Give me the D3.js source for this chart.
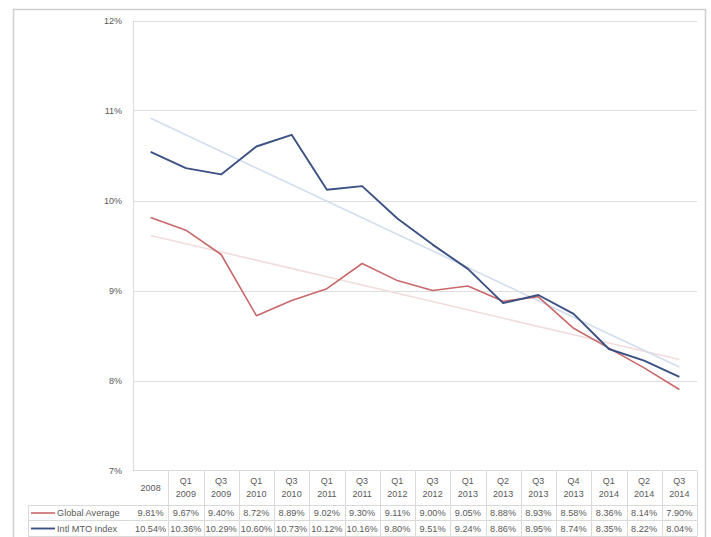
<!DOCTYPE html>
<html>
<head>
<meta charset="utf-8">
<script src="https://cdn.jsdelivr.net/npm/d3@7"></script>
<style>
  html, body { margin: 0; padding: 0; background: #fff; }
  svg { display: block; }
  text { font-family: "Liberation Sans", "DejaVu Sans", sans-serif; }
</style>
</head>
<body>
<svg id="chart" width="711" height="537"></svg>
<script>
// Quarterly periods shown along the x axis (two-line labels)
const categories = ["2008", "Q1\n2009", "Q3\n2009", "Q1\n2010", "Q3\n2010", "Q1\n2011", "Q3\n2011",
  "Q1\n2012", "Q3\n2012", "Q1\n2013", "Q2\n2013", "Q3\n2013", "Q4\n2013", "Q1\n2014", "Q2\n2014", "Q3\n2014"];

// Rates, in percent
const globalAverage = [9.81, 9.67, 9.40, 8.72, 8.89, 9.02, 9.30, 9.11, 9.00, 9.05, 8.88, 8.93, 8.58, 8.36, 8.14, 7.90];
const intlMtoIndex = [10.54, 10.36, 10.29, 10.60, 10.73, 10.12, 10.16, 9.80, 9.51, 9.24, 8.86, 8.95, 8.74, 8.35, 8.22, 8.04];

const yTicks = [7, 8, 9, 10, 11, 12];

const seriesNames = ["Global Average", "Intl MTO Index"];

const series = [
  { name: seriesNames[0], values: globalAverage, color: "#c8686a", trend: "#f3dcdd", width: 1.6 },
  { name: seriesNames[1], values: intlMtoIndex, color: "#3b5183", trend: "#d2ddee", width: 1.9 }
];

const svg = d3.select("#chart");
const plotLeft = 133, plotRight = 697, plotTop = 20.5, plotBottom = 470.5;

const x = d3.scaleBand().domain(categories).range([plotLeft, plotRight]);
const cx = c => x(c) + x.bandwidth() / 2;
const y = d3.scaleLinear().domain([7, 12]).range([plotBottom, plotTop]);

// outer chart border
svg.append("path")
  .attr("d", "M13.5,537 V9.5 H705.5 V537")
  .attr("fill", "none").attr("stroke", "#d0d0d0").attr("stroke-width", 1.5);

// horizontal gridlines
svg.append("g").selectAll("line").data(yTicks.filter(t => t > 7)).join("line")
  .attr("x1", plotLeft).attr("x2", plotRight)
  .attr("y1", d => Math.round(y(d)) + 0.5).attr("y2", d => Math.round(y(d)) + 0.5)
  .attr("stroke", "#dedede").attr("stroke-width", 1);

// vertical axis line
svg.append("line")
  .attr("x1", plotLeft + 0.5).attr("x2", plotLeft + 0.5)
  .attr("y1", plotTop).attr("y2", plotBottom)
  .attr("stroke", "#dcdcdc");

// y axis labels
const yAxis = d3.axisLeft(y).tickValues(yTicks).tickSize(0).tickPadding(11)
  .tickFormat(d => d + "%");
const yg = svg.append("g").attr("transform", `translate(${plotLeft},0)`).call(yAxis);
yg.select(".domain").remove();
yg.selectAll("text").attr("fill", "#595959").attr("font-size", 9);

// linear trendlines (least squares over the period index)
function regression(vals) {
  const n = vals.length;
  const xs = d3.range(n);
  const mx = d3.mean(xs), my = d3.mean(vals);
  const sxy = d3.sum(xs, i => (i - mx) * (vals[i] - my));
  const sxx = d3.sum(xs, i => (i - mx) * (i - mx));
  const b = sxy / sxx, a = my - b * mx;
  return [a, a + b * (n - 1)];
}
series.forEach(s => {
  const [v0, v1] = regression(s.values);
  svg.append("line")
    .attr("x1", cx(categories[0])).attr("y1", y(v0))
    .attr("x2", cx(categories[categories.length - 1])).attr("y2", y(v1))
    .attr("stroke", s.trend).attr("stroke-width", 1.6);
});

// data lines
const line = d3.line().x((d, i) => cx(categories[i])).y(d => y(d));
series.forEach(s => {
  svg.append("path")
    .datum(s.values)
    .attr("d", line)
    .attr("fill", "none")
    .attr("stroke", s.color)
    .attr("stroke-width", s.width)
    .attr("stroke-linejoin", "round");
});

// data table under the plot
const tableLeft = 28;
const headTop = plotBottom, headBottom = 505, row1Bottom = 520.5, row2Bottom = 536.5;
const grid = svg.append("g").attr("stroke", "#dadada").attr("stroke-width", 1).attr("fill", "none");
// horizontal rules
grid.append("line").attr("x1", tableLeft).attr("x2", plotRight).attr("y1", headBottom + 0.5).attr("y2", headBottom + 0.5);
grid.append("line").attr("x1", tableLeft).attr("x2", plotRight).attr("y1", row1Bottom).attr("y2", row1Bottom);
grid.append("line").attr("x1", tableLeft).attr("x2", plotRight).attr("y1", row2Bottom).attr("y2", row2Bottom);
grid.append("line").attr("x1", plotLeft).attr("x2", plotRight).attr("y1", headTop).attr("y2", headTop);
// vertical rules
grid.append("line").attr("x1", tableLeft + 0.5).attr("x2", tableLeft + 0.5).attr("y1", headBottom).attr("y2", row2Bottom);
grid.selectAll("line.col").data(categories).join("line").attr("class", "col")
  .attr("x1", d => Math.round(x(d) + x.bandwidth()) + 0.5)
  .attr("x2", d => Math.round(x(d) + x.bandwidth()) + 0.5)
  .attr("y1", headTop).attr("y2", row2Bottom);

// category labels
const cat = svg.append("g").attr("fill", "#595959").attr("font-size", 9).attr("text-anchor", "middle");
categories.forEach(c => {
  const parts = c.split("\n");
  const t = cat.append("text").attr("x", cx(c));
  if (parts.length === 1) {
    t.attr("y", 491).text(parts[0]);
  } else {
    parts.forEach((p, i) => t.append("tspan").attr("x", cx(c)).attr("y", 484 + i * 13).text(p));
  }
});

// value rows with legend keys
const rowMid = [513, 528.5];
series.forEach((s, r) => {
  svg.append("line")
    .attr("x1", 31).attr("x2", 55).attr("y1", rowMid[r]).attr("y2", rowMid[r])
    .attr("stroke", s.color).attr("stroke-width", s.width);
  svg.append("text").attr("x", 57).attr("y", rowMid[r] + 3)
    .attr("fill", "#595959").attr("font-size", 9.2).text(s.name);
  svg.append("g").selectAll("text").data(s.values).join("text")
    .attr("x", (d, i) => cx(categories[i]))
    .attr("y", rowMid[r] + 3)
    .attr("text-anchor", "middle")
    .attr("fill", "#595959").attr("font-size", 9.2)
    .text(d => d.toFixed(2) + "%");
});
</script>
</body>
</html>
